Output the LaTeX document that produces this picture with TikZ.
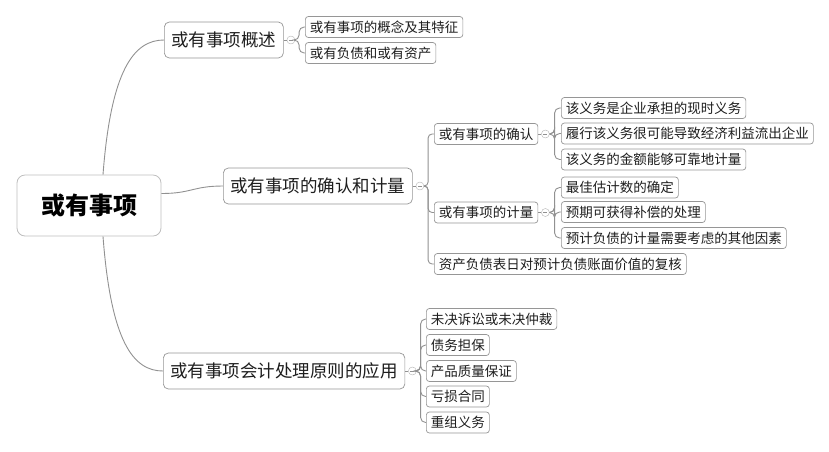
\documentclass[tikz,border=0pt]{standalone}
\usepackage{fontspec}
\setmainfont{Noto Sans CJK SC}
\usetikzlibrary{positioning, calc}
\definecolor{lignegris}{RGB}{145,145,145}
\definecolor{bordgris}{RGB}{150,150,150}
\definecolor{racinegris}{RGB}{190,190,190}
\definecolor{textenoir}{RGB}{30,30,30}

\tikzset{
  racine/.style={draw=racinegris, fill=white, rounded corners=8pt, line width=0.8pt,
    font=\fontsize{24}{26}\selectfont\bfseries, minimum width=144pt, minimum height=61pt},
  branche/.style={draw=bordgris, fill=white, rounded corners=5pt, line width=0.7pt, text=textenoir,
    font=\fontsize{17.5}{19}\selectfont, minimum height=36pt, inner xsep=7pt, inner ysep=2pt, anchor=west},
  feuille/.style={draw=bordgris, fill=white, rounded corners=3pt, line width=0.7pt, text=textenoir,
    font=\fontsize{13.5}{15}\selectfont, minimum height=21pt, inner xsep=4.5pt, inner ysep=2pt, anchor=west},
  replier/.style={circle, draw=lignegris!70, fill=white, inner sep=0pt, minimum size=8pt,
    path picture={\draw[lignegris, line width=0.6pt] ([xshift=-2pt]path picture bounding box.center) -- ([xshift=2pt]path picture bounding box.center);}},
  lien/.style={draw=lignegris, line width=0.9pt},
}

\begin{document}
\begin{tikzpicture}[x=1pt, y=-1pt]
    \useasboundingbox (0,0) rectangle (829,451);

    % === RACINE ===
    \node[racine] (racine) at (89,205.5) {或有事项};

    % === BRANCHES PRINCIPALES ===
    \node[branche] (gaishu) at (164,40) {或有事项概述};
    \node[branche] (queren) at (223,186) {或有事项的确认和计量};
    \node[branche] (yingyong) at (163,371) {或有事项会计处理原则的应用};

    % Liens racine -> branches
    \draw[lien] ([xshift=14pt]racine.north) .. controls +(8,-105) and +(-30,0) .. (gaishu.west);
    \draw[lien] ([yshift=12pt]racine.east) .. controls +(30,0) and +(-30,0) .. (queren.west);
    \draw[lien] ([xshift=14pt]racine.south) .. controls +(8,105) and +(-30,0) .. (yingyong.west);

    % Boutons replier
    \node[replier, right=3pt of gaishu] (m1) {};
    \node[replier, right=3pt of queren] (m2) {};
    \node[replier, right=3pt of yingyong] (m3) {};
    \draw[lien] (gaishu.east) -- (m1.west);
    \draw[lien] (queren.east) -- (m2.west);
    \draw[lien] (yingyong.east) -- (m3.west);

    % === APERCU ===
    \node[feuille] (gainian) at (305,27) {或有事项的概念及其特征};
    \node[feuille] (fuzhai) at (305,53) {或有负债和或有资产};
    \foreach \f in {gainian, fuzhai}
        \draw[lien, rounded corners=5pt] (m1.east) -- ++(4,0) |- (\f.west);

    % === CONFIRMATION ET MESURE ===
    \node[feuille] (qr) at (434,134) {或有事项的确认};
    \node[feuille] (jl) at (434,212.5) {或有事项的计量};
    \node[feuille] (fuhe) at (434,264) {资产负债表日对预计负债账面价值的复核};
    \foreach \f in {qr, jl, fuhe}
        \draw[lien, rounded corners=4pt] (m2.east) -- ++(4,0) |- (\f.west);

    \node[replier, right=3pt of qr] (m4) {};
    \node[replier, right=3pt of jl] (m5) {};
    \draw[lien] (qr.east) -- (m4.west);
    \draw[lien] (jl.east) -- (m5.west);

    \node[feuille] (xianshi) at (561,108) {该义务是企业承担的现时义务};
    \node[feuille] (liuchu) at (561,133.5) {履行该义务很可能导致经济利益流出企业};
    \node[feuille] (kekao) at (561,159.5) {该义务的金额能够可靠地计量};
    \foreach \f in {xianshi, liuchu, kekao}
        \draw[lien, rounded corners=5pt] (m4.east) -- ++(5,0) |- (\f.west);

    \node[feuille] (zuijia) at (561,187.5) {最佳估计数的确定};
    \node[feuille] (buchang) at (561,212) {预期可获得补偿的处理};
    \node[feuille] (qita) at (561,238) {预计负债的计量需要考虑的其他因素};
    \foreach \f in {zuijia, buchang, qita}
        \draw[lien, rounded corners=5pt] (m5.east) -- ++(5,0) |- (\f.west);

    % === APPLICATION ===
    \node[feuille] (susong) at (426,319) {未决诉讼或未决仲裁};
    \node[feuille] (danbao) at (426,345) {债务担保};
    \node[feuille] (zhiliang) at (426,371) {产品质量保证};
    \node[feuille] (kuisun) at (426,396.5) {亏损合同};
    \node[feuille] (chongzu) at (426,422.5) {重组义务};
    \foreach \f in {susong, danbao, zhiliang, kuisun, chongzu}
        \draw[lien, rounded corners=5pt] (m3.east) -- ++(4,0) |- (\f.west);

\end{tikzpicture}
\end{document}
